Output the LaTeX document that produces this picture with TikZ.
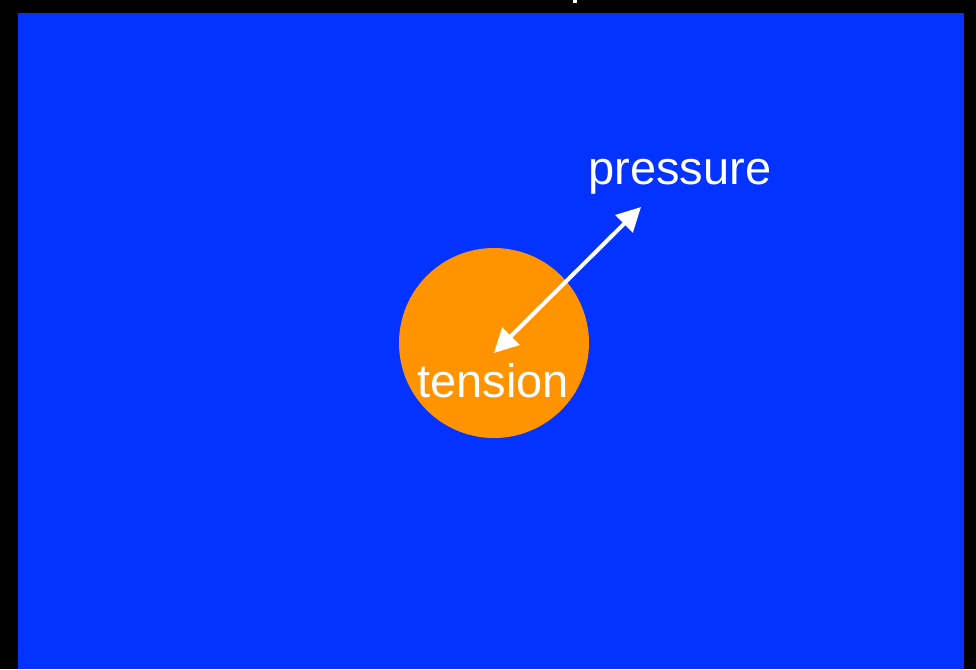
\documentclass[tikz,border=0pt]{standalone}
\usepackage{fontspec}
\setmainfont{Liberation Sans}
\usetikzlibrary{arrows.meta}
\definecolor{bgblue}{HTML}{0433FF}
\definecolor{ballorange}{HTML}{FF9300}
\tikzset{
  lbl/.style={text=white,font=\fontsize{47}{47}\selectfont,inner sep=0pt,anchor=base},
  dblarrow/.style={white,line width=4pt,{Triangle[length=24pt,width=24pt]}-{Triangle[length=24pt,width=24pt]},shorten <=0pt,shorten >=0pt}
}
\begin{document}
\begin{tikzpicture}[x=1pt,y=-1pt]
\fill[black] (0,0) rectangle (976,669);
\useasboundingbox (0,0) rectangle (976,669);
\fill[bgblue] (18,13) rectangle (964,669);
\fill[white] (573,0) rectangle (577,3);
\fill[ballorange] (494,343) circle (95);
\node[lbl] (pressure) at (680,184) {pressure};
\node[lbl] (tension) at (493,397) {tension};
\coordinate (a) at (494,353);
\coordinate (b) at (641,207);
\draw[dblarrow] (a) -- (b);
\end{tikzpicture}
\end{document}
